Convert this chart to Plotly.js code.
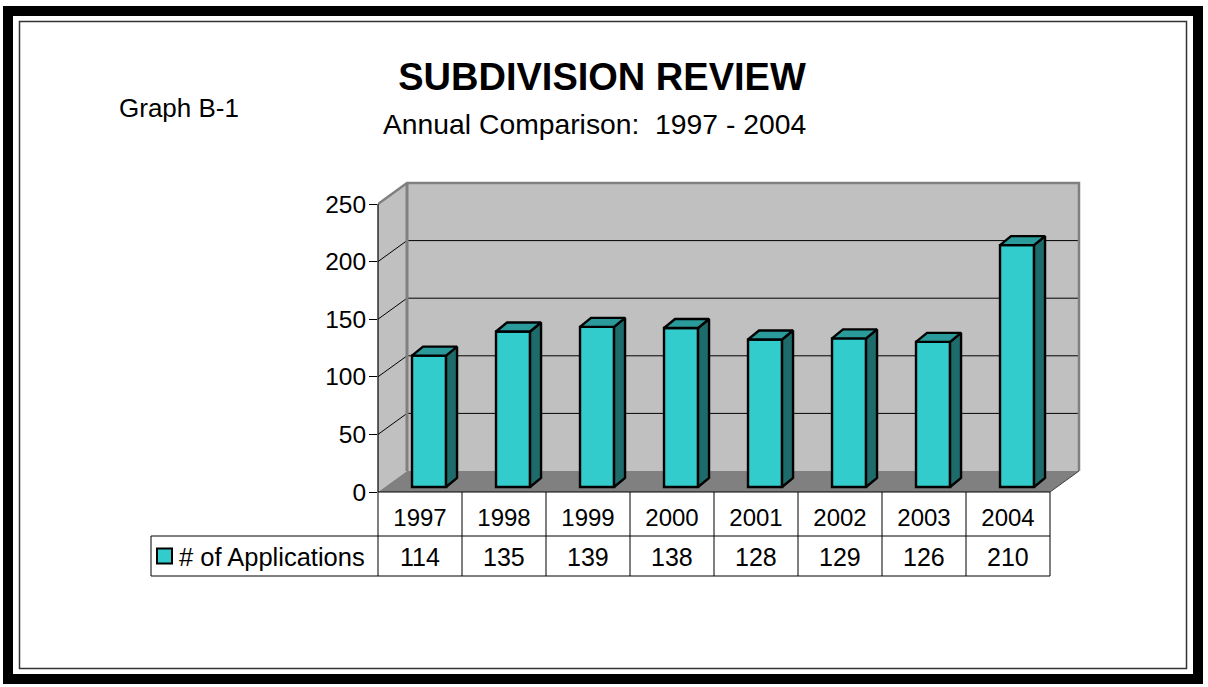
<!DOCTYPE html>
<html>
<head>
<meta charset="utf-8">
<script src="https://cdn.plot.ly/plotly-3.0.1.min.js"></script>
<style>
html,body{margin:0;padding:0;background:#fff;}
#chart{width:1208px;height:687px;}
</style>
</head>
<body>
<div id="chart"></div>
<script>
// ---------------- data ----------------
const categories = ['1997', '1998', '1999', '2000', '2001', '2002', '2003', '2004'];
const applications = [114, 135, 139, 138, 128, 129, 126, 210];
const seriesName = '# of Applications';
const yTickVals = [0, 50, 100, 150, 200, 250];
const yTickText = ['0', '50', '100', '150', '200', '250'];
const chartTitle = 'SUBDIVISION REVIEW';
const chartSubtitle = 'Annual Comparison:\u00a0 1997 - 2004';
const graphLabel = 'Graph B-1';

// ---------------- geometry ----------------
const W = 1208, H = 687;
const FONT = 'Liberation Sans, Arial, Helvetica, sans-serif';
const PLOT_L = 378, ZERO_Y = 492, PLOT_T = 181;
const CAT_PX = 84;                 // px per category
const Y_PX = 288 / 250;            // px per value unit
const X_MIN = -0.5, X_MAX = 8.0;
const Y_MAX = (ZERO_Y - PLOT_T) / Y_PX;
const PLOT_R = PLOT_L + (X_MAX - X_MIN) * CAT_PX;
const N = categories.length;
const X_END = N - 0.5;
const V_TOP = yTickVals[yTickVals.length - 1];

const WALL_DX = 29 / CAT_PX, WALL_DY = 21 / Y_PX;
const BAR_BASE = 5 / Y_PX, BAR_OFF = -0.095, BAR_W = 0.405;
const FACE_DX = 11 / CAT_PX, FACE_DY = 9 / Y_PX;

const FRONT = '#33CCCC', SIDE = '#1E6B6B', TOP = '#2A9A9A';
const WALL = '#C0C0C0', FLOOR = '#808080', EDGE = '#808080';

// pixel -> paper helpers
const xp = px => (px - PLOT_L) / (PLOT_R - PLOT_L);
const yp = py => (ZERO_Y - py) / (ZERO_Y - PLOT_T);
// data -> pixel
const dx2px = x => PLOT_L + (x - X_MIN) * CAT_PX;
const dy2px = y => ZERO_Y - y * Y_PX;

// ---------------- traces ----------------
const xIdx = categories.map((_, i) => i);

const barTrace = {
  type: 'bar', x: xIdx, y: applications, base: BAR_BASE,
  offset: BAR_OFF, width: BAR_W, name: seriesName,
  marker: {color: FRONT, line: {color: '#000', width: 2.4}},
  hoverinfo: 'skip', showlegend: false, cliponaxis: false
};

const sideX = [], sideY = [], topX = [], topY = [];
applications.forEach((v, i) => {
  const xl = i + BAR_OFF, xr = xl + BAR_W;
  const b = BAR_BASE, t = BAR_BASE + v;
  sideX.push(xr, xr + FACE_DX, xr + FACE_DX, xr, xr, null);
  sideY.push(b, b + FACE_DY, t + FACE_DY, t, b, null);
  topX.push(xl, xl + FACE_DX, xr + FACE_DX, xr, xl, null);
  topY.push(t, t + FACE_DY, t + FACE_DY, t, t, null);
});
const sideTrace = {
  type: 'scatter', mode: 'lines', x: sideX, y: sideY, fill: 'toself',
  fillcolor: SIDE, line: {color: '#000', width: 2.4}, hoverinfo: 'skip',
  showlegend: false, cliponaxis: false
};
const topTrace = {
  type: 'scatter', mode: 'lines', x: topX, y: topY, fill: 'toself',
  fillcolor: TOP, line: {color: '#000', width: 2.4}, hoverinfo: 'skip',
  showlegend: false, cliponaxis: false
};

// ---------------- shapes ----------------
const shapes = [];
const wx0 = X_MIN + WALL_DX, wx1 = X_END + WALL_DX;
// back wall
shapes.push({type: 'rect', xref: 'x', yref: 'y', x0: wx0, x1: wx1, y0: WALL_DY, y1: V_TOP + WALL_DY,
  fillcolor: WALL, line: {width: 0}, layer: 'below'});
// left wall
shapes.push({type: 'path', xref: 'x', yref: 'y', layer: 'below', fillcolor: WALL, line: {width: 0},
  path: `M${X_MIN},0 L${X_MIN},${V_TOP} L${wx0},${V_TOP + WALL_DY} L${wx0},${WALL_DY} Z`});
// floor
shapes.push({type: 'path', xref: 'x', yref: 'y', layer: 'below', fillcolor: FLOOR, line: {width: 0},
  path: `M${X_MIN},0 L${X_END},0 L${wx1},${WALL_DY} L${wx0},${WALL_DY} Z`});
// gridlines on walls
yTickVals.forEach(v => {
  if (v === 0 || v === V_TOP) return;
  shapes.push({type: 'line', xref: 'x', yref: 'y', layer: 'below', x0: wx0, x1: wx1,
    y0: v + WALL_DY, y1: v + WALL_DY, line: {color: '#000', width: 1}});
  shapes.push({type: 'line', xref: 'x', yref: 'y', layer: 'below', x0: X_MIN, x1: wx0,
    y0: v, y1: v + WALL_DY, line: {color: '#000', width: 1}});
});
// wall edges
shapes.push({type: 'path', xref: 'x', yref: 'y', layer: 'below', line: {color: EDGE, width: 2.5},
  path: `M${X_MIN},${V_TOP} L${wx0},${V_TOP + WALL_DY} L${wx1},${V_TOP + WALL_DY} L${wx1},${WALL_DY}`});
shapes.push({type: 'line', xref: 'x', yref: 'y', layer: 'below', x0: wx0, x1: wx0,
  y0: WALL_DY, y1: V_TOP + WALL_DY, line: {color: EDGE, width: 3}});
shapes.push({type: 'line', xref: 'x', yref: 'y', layer: 'below', x0: X_END, x1: wx1,
  y0: 0, y1: WALL_DY, line: {color: '#404040', width: 1}});

// y axis line (paper coords so it is not clipped)
const axp = dx2px(X_MIN);
shapes.push({type: 'line', xref: 'paper', yref: 'paper', x0: xp(axp), x1: xp(axp),
  y0: yp(dy2px(0)), y1: yp(dy2px(V_TOP)), line: {color: '#000', width: 1.2}});

// data table
const ROW1 = 44, ROW2 = 40, LEG_L = 151;
const r0 = dy2px(0), r1 = r0 + ROW1, r2 = r1 + ROW2;
const tLine = {color: '#000', width: 1};
shapes.push({type: 'line', xref: 'paper', yref: 'paper', x0: xp(dx2px(X_MIN)), x1: xp(dx2px(X_END)),
  y0: yp(r0), y1: yp(r0), line: tLine});
[r1, r2].forEach(r => shapes.push({type: 'line', xref: 'paper', yref: 'paper',
  x0: xp(LEG_L), x1: xp(dx2px(X_END)), y0: yp(r), y1: yp(r), line: tLine}));
for (let k = 0; k <= N; k++) {
  const px = dx2px(X_MIN + k);
  shapes.push({type: 'line', xref: 'paper', yref: 'paper', x0: xp(px), x1: xp(px),
    y0: yp(r0), y1: yp(r2), line: tLine});
}
shapes.push({type: 'line', xref: 'paper', yref: 'paper', x0: xp(LEG_L), x1: xp(LEG_L),
  y0: yp(r1), y1: yp(r2), line: tLine});
// legend key
const rowMid = (r1 + r2) / 2;
shapes.push({type: 'rect', xref: 'paper', yref: 'paper', x0: xp(157), x1: xp(172),
  y0: yp(rowMid - 7.5), y1: yp(rowMid + 7.5), fillcolor: FRONT, line: {color: '#000', width: 2}});

// outer frame
shapes.push({type: 'rect', xref: 'paper', yref: 'paper', x0: xp(8), x1: xp(1198),
  y0: yp(11), y1: yp(679), line: {color: '#000', width: 10}});
shapes.push({type: 'rect', xref: 'paper', yref: 'paper', x0: xp(19.5), x1: xp(1186.5),
  y0: yp(21.5), y1: yp(668.5), line: {color: '#333', width: 1.5}});

// ---------------- annotations ----------------
const annotations = [];
applications.forEach((v, i) => {
  annotations.push({xref: 'paper', yref: 'paper', x: xp(dx2px(i)), y: yp(rowMid + 1),
    text: String(v), showarrow: false, xanchor: 'center', yanchor: 'middle',
    font: {family: FONT, size: 25, color: '#000'}});
});
annotations.push({xref: 'paper', yref: 'paper', x: xp(177), y: yp(rowMid + 1), text: seriesName,
  showarrow: false, xanchor: 'left', yanchor: 'middle', font: {family: FONT, size: 25.5, color: '#000'}});
annotations.push({xref: 'paper', yref: 'paper', x: xp(594.5), y: yp(124), text: chartSubtitle,
  showarrow: false, xanchor: 'center', yanchor: 'middle', font: {family: FONT, size: 28.3, color: '#000'}});
annotations.push({xref: 'paper', yref: 'paper', x: xp(117), y: yp(108), text: graphLabel,
  showarrow: false, xanchor: 'left', yanchor: 'middle', font: {family: FONT, size: 26, color: '#000'}});

// ---------------- layout ----------------
const layout = {
  width: W, height: H, autosize: false,
  margin: {l: PLOT_L, r: W - PLOT_R, t: PLOT_T, b: H - ZERO_Y, pad: 0},
  paper_bgcolor: '#fff', plot_bgcolor: '#fff',
  showlegend: false,
  title: {text: '<b>' + chartTitle + '</b>', x: 602 / W, y: 1 - 77 / H, xref: 'container', yref: 'container',
    xanchor: 'center', yanchor: 'middle', font: {family: FONT, size: 38, color: '#000'}},
  xaxis: {range: [X_MIN, X_MAX], tickvals: xIdx, ticktext: categories, ticks: '', showgrid: false,
    zeroline: false, showline: false, fixedrange: true, ticklabelstandoff: 9,
    tickfont: {family: FONT, size: 24, color: '#000'}},
  yaxis: {range: [0, Y_MAX], tickvals: yTickVals, ticktext: yTickText, ticks: 'outside', ticklen: 8,
    tickcolor: '#000', tickwidth: 1, showgrid: false, zeroline: false, showline: false, fixedrange: true,
    ticklabelstandoff: -2, tickfont: {family: FONT, size: 24.5, color: '#000'}},
  shapes: shapes, annotations: annotations, bargap: 0
};

Plotly.newPlot('chart', [barTrace, sideTrace, topTrace], layout, {staticPlot: true, displayModeBar: false});
</script>
</body>
</html>
